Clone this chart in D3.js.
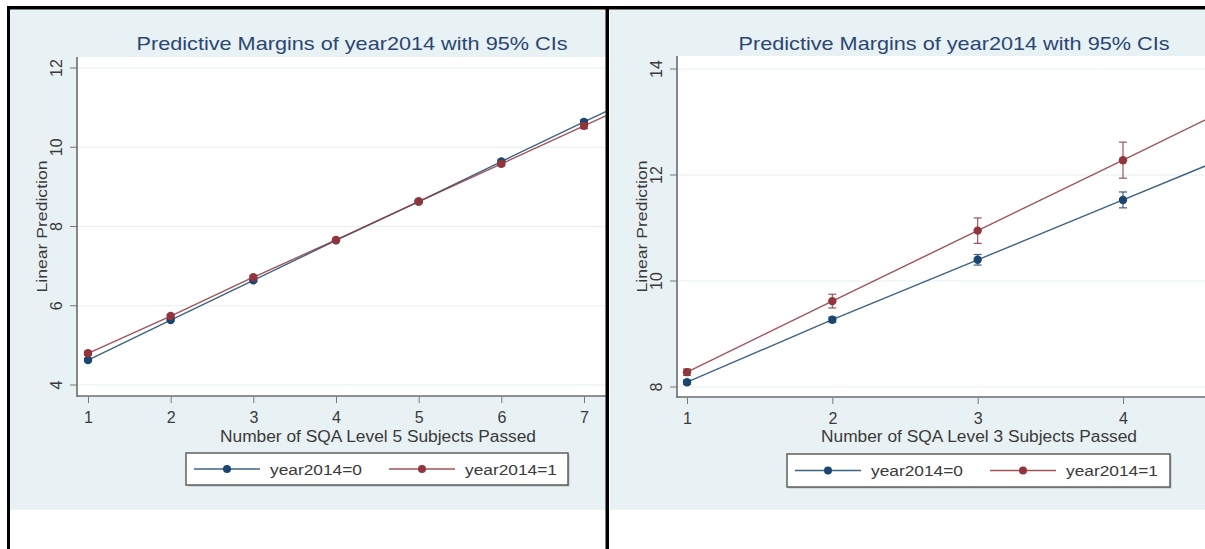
<!DOCTYPE html>
<html>
<head>
<meta charset="utf-8">
<script src="https://cdn.jsdelivr.net/npm/d3@7"></script>
<style>
  html, body { margin: 0; padding: 0; background: #ffffff; }
  svg { display: block; font-family: "Liberation Sans", Arial, sans-serif; }
</style>
</head>
<body>
<svg id="chart" width="1205" height="549"></svg>
<script>
// Predicted values by number of subjects passed, split by year2014
const chartTitle = "Predictive Margins of year2014 with 95% CIs";
const yAxisTitle = "Linear Prediction";
const seriesNames = ["year2014=0", "year2014=1"];

// Level 5 panel
const level5Subjects = [1, 2, 3, 4, 5, 6, 7, 8];
const level5Year0 = [4.63, 5.64, 6.64, 7.65, 8.63, 9.64, 10.64, 11.62];
const level5Year1 = [4.80, 5.74, 6.72, 7.66, 8.63, 9.58, 10.54, 11.50];
const level5Year0Ci = [0.04, 0.03, 0.03, 0.03, 0.03, 0.04, 0.05, 0.07];
const level5Year1Ci = [0.05, 0.04, 0.04, 0.03, 0.04, 0.05, 0.07, 0.10];
const level5XTicks = [1, 2, 3, 4, 5, 6, 7];
const level5YTicks = [4, 6, 8, 10, 12];

// Level 3 panel
const level3Subjects = [1, 2, 3, 4, 5];
const level3Year0 = [8.09, 9.27, 10.40, 11.53, 12.66];
const level3Year1 = [8.28, 9.62, 10.95, 12.28, 13.62];
const level3Year0Ci = [0.04, 0.05, 0.10, 0.15, 0.22];
const level3Year1Ci = [0.06, 0.13, 0.24, 0.34, 0.45];
const level3XTicks = [1, 2, 3, 4];
const level3YTicks = [8, 10, 12, 14];

const colors = ["#1a476f", "#90353b"];
const bgColor = "#e8f1f3";
const gridColor = "#e6eff2";
const textColor = "#3a3a3a";

const svg = d3.select("#chart");

const panels = [
  {
    clip: [10, 10, 596, 500],
    axisX: 77, axisTop: 57, axisBottom: 396,
    x: d3.scaleLinear().domain([1, 7]).range([88, 584]),
    y: d3.scaleLinear().domain([4, 12]).range([385, 68]),
    xTicks: level5XTicks, yTicks: level5YTicks,
    subjects: level5Subjects,
    series: [
      { values: level5Year0, ci: level5Year0Ci },
      { values: level5Year1, ci: level5Year1Ci }
    ],
    xTitle: "Number of SQA Level 5 Subjects Passed",
    titleX: 352, xTitleX: 378, yTitleX: 42, tickLabelX: 56,
    legend: { x: 186, y: 453, w: 382, h: 32 }
  },
  {
    clip: [610, 10, 595, 500],
    axisX: 677, axisTop: 56, axisBottom: 397,
    x: d3.scaleLinear().domain([1, 4]).range([687, 1123]),
    y: d3.scaleLinear().domain([8, 14]).range([387, 69]),
    xTicks: level3XTicks, yTicks: level3YTicks,
    subjects: level3Subjects,
    series: [
      { values: level3Year0, ci: level3Year0Ci },
      { values: level3Year1, ci: level3Year1Ci }
    ],
    xTitle: "Number of SQA Level 3 Subjects Passed",
    titleX: 954, xTitleX: 979, yTitleX: 642, tickLabelX: 656,
    legend: { x: 787, y: 454, w: 383, h: 33 }
  }
];

const defs = svg.append("defs");

panels.forEach((p, i) => {
  const [cx, cy, cw, ch] = p.clip;
  defs.append("clipPath").attr("id", "clip" + i)
    .append("rect").attr("x", cx).attr("y", cy).attr("width", cw).attr("height", ch);

  const g = svg.append("g").attr("clip-path", `url(#clip${i})`);

  // graph region background
  g.append("rect").attr("x", cx).attr("y", cy).attr("width", cw).attr("height", ch)
    .attr("fill", bgColor);

  // plot region
  g.append("rect")
    .attr("x", p.axisX).attr("y", p.axisTop)
    .attr("width", 1300).attr("height", p.axisBottom - p.axisTop)
    .attr("fill", "#ffffff");

  // horizontal grid lines
  g.selectAll(".grid").data(p.yTicks).join("line")
    .attr("x1", p.axisX + 1).attr("x2", 1300)
    .attr("y1", d => p.y(d)).attr("y2", d => p.y(d))
    .attr("stroke", gridColor).attr("stroke-width", 1.2);

  // title
  g.append("text").attr("x", p.titleX).attr("y", 50)
    .attr("text-anchor", "middle").attr("font-size", 19)
    .attr("textLength", 431).attr("lengthAdjust", "spacingAndGlyphs")
    .attr("fill", "#2a4675").text(chartTitle);

  // y axis ticks
  g.selectAll(".ytick").data(p.yTicks).join("line")
    .attr("x1", p.axisX - 7).attr("x2", p.axisX)
    .attr("y1", d => p.y(d)).attr("y2", d => p.y(d))
    .attr("stroke", "#777").attr("stroke-width", 1);
  g.append("line").attr("x1", p.axisX).attr("x2", p.axisX)
    .attr("y1", p.axisTop).attr("y2", p.axisBottom + 1)
    .attr("stroke", "#6b6b6b").attr("stroke-width", 1.6);

  g.selectAll(".ylab").data(p.yTicks).join("text")
    .attr("transform", d => `translate(${p.tickLabelX},${p.y(d)}) rotate(-90)`)
    .attr("text-anchor", "middle").attr("dy", "0.35em")
    .attr("font-size", 16).attr("fill", textColor)
    .text(d => d);

  g.append("text")
    .attr("transform", `translate(${p.yTitleX},${(p.axisTop + p.axisBottom) / 2}) rotate(-90)`)
    .attr("text-anchor", "middle").attr("dy", "0.35em")
    .attr("font-size", 15).attr("textLength", 132).attr("lengthAdjust", "spacingAndGlyphs")
    .attr("fill", textColor).text(yAxisTitle);

  // x axis
  g.append("line").attr("x1", p.axisX).attr("x2", 1300)
    .attr("y1", p.axisBottom).attr("y2", p.axisBottom)
    .attr("stroke", "#6b6b6b").attr("stroke-width", 1.6);
  const xAxis = d3.axisBottom(p.x).tickValues(p.xTicks).tickSize(6).tickPadding(9)
    .tickFormat(d3.format("d"));
  const xg = g.append("g").attr("transform", `translate(0,${p.axisBottom + 1})`)
    .attr("font-size", 16).call(xAxis);
  xg.attr("font-size", 16).attr("font-family", "'Liberation Sans', Arial, sans-serif");
  xg.select(".domain").remove();
  xg.selectAll(".tick line").attr("stroke", "#777");
  xg.selectAll(".tick text").style("font-size", "16px").attr("fill", textColor);

  g.append("text").attr("x", p.xTitleX).attr("y", 442)
    .attr("text-anchor", "middle").attr("font-size", 16)
    .attr("textLength", 316).attr("lengthAdjust", "spacingAndGlyphs")
    .attr("fill", textColor).text(p.xTitle);

  // series: lines, confidence caps, markers
  p.series.forEach((s, k) => {
    const pts = p.subjects.map((sub, j) => ({ x: sub, v: s.values[j], ci: s.ci[j] }));
    const line = d3.line().x(d => p.x(d.x)).y(d => p.y(d.v));
    g.append("path").datum(pts).attr("d", line)
      .attr("fill", "none").attr("stroke", colors[k])
      .attr("stroke-width", 1.4).attr("stroke-opacity", 0.85);

    const bars = g.append("g").attr("stroke", colors[k]).attr("stroke-width", 1.2)
      .attr("stroke-opacity", 0.85);
    pts.forEach(d => {
      const xx = p.x(d.x);
      const y0 = p.y(d.v - d.ci), y1 = p.y(d.v + d.ci);
      bars.append("line").attr("x1", xx).attr("x2", xx).attr("y1", y0).attr("y2", y1);
      bars.append("line").attr("x1", xx - 4).attr("x2", xx + 4).attr("y1", y0).attr("y2", y0);
      bars.append("line").attr("x1", xx - 4).attr("x2", xx + 4).attr("y1", y1).attr("y2", y1);
    });

    g.selectAll(".m" + k).data(pts).join("circle")
      .attr("cx", d => p.x(d.x)).attr("cy", d => p.y(d.v)).attr("r", 4.2)
      .attr("fill", colors[k]);
  });

  // legend
  const L = p.legend;
  const lg = g.append("g");
  lg.append("rect").attr("x", L.x + 1.5).attr("y", L.y + 1.5).attr("width", L.w).attr("height", L.h)
    .attr("fill", "#b8bfc2");
  lg.append("rect").attr("x", L.x).attr("y", L.y).attr("width", L.w).attr("height", L.h)
    .attr("fill", "#ffffff").attr("stroke", "#555").attr("stroke-width", 1.4);
  const keyOffsets = [8, 203];
  seriesNames.forEach((name, k) => {
    const kx = L.x + keyOffsets[k];
    const ky = L.y + L.h / 2;
    lg.append("line").attr("x1", kx).attr("x2", kx + 66).attr("y1", ky).attr("y2", ky)
      .attr("stroke", colors[k]).attr("stroke-width", 1.4).attr("stroke-opacity", 0.85);
    lg.append("circle").attr("cx", kx + 33).attr("cy", ky).attr("r", 4).attr("fill", colors[k]);
    lg.append("text").attr("x", kx + 76).attr("y", ky).attr("dy", "0.36em")
      .attr("font-size", 15.5).attr("textLength", 92).attr("lengthAdjust", "spacingAndGlyphs")
      .attr("fill", textColor).text(name);
  });
});

// outer frame lines
const frame = svg.append("g").attr("fill", "#000");
frame.append("rect").attr("x", 7).attr("y", 6).attr("width", 1198).attr("height", 3.5);
frame.append("rect").attr("x", 7).attr("y", 6).attr("width", 3).attr("height", 543);
frame.append("rect").attr("x", 605.5).attr("y", 6).attr("width", 3.5).attr("height", 543);
</script>
</body>
</html>
